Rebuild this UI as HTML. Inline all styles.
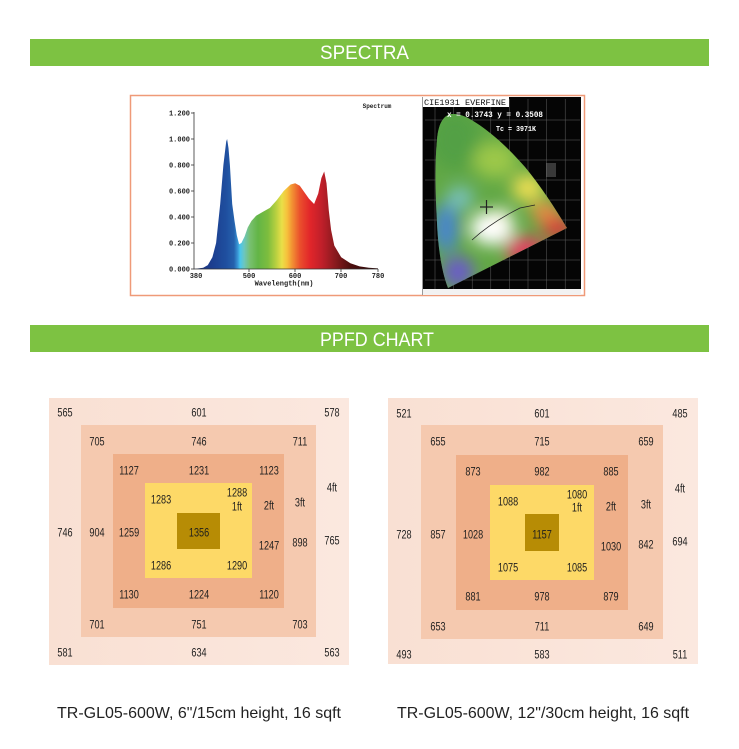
<!DOCTYPE html>
<html>
<head>
<meta charset="utf-8">
<style>
html,body{margin:0;padding:0;background:#fff;}
svg{display:block;}
.n{font-family:"Liberation Sans",sans-serif;font-size:12px;fill:#1e1e1e;text-anchor:middle;}
.ax{font-family:"Liberation Mono",monospace;font-size:7px;font-weight:bold;fill:#222;}
</style>
</head>
<body>
<svg width="739" height="749" viewBox="0 0 739 749" xmlns="http://www.w3.org/2000/svg">
<defs>
<linearGradient id="sp" gradientUnits="userSpaceOnUse" x1="194" y1="0" x2="378" y2="0">
<stop offset="0" stop-color="#1a2f7a"/>
<stop offset="0.103" stop-color="#1c3f90"/>
<stop offset="0.174" stop-color="#1f4f9f"/>
<stop offset="0.217" stop-color="#2561ad"/>
<stop offset="0.239" stop-color="#3a9ad8"/>
<stop offset="0.25" stop-color="#49c6ee"/>
<stop offset="0.272" stop-color="#6cc6c0"/>
<stop offset="0.304" stop-color="#78c070"/>
<stop offset="0.348" stop-color="#63b546"/>
<stop offset="0.402" stop-color="#7dbd3e"/>
<stop offset="0.446" stop-color="#b8d040"/>
<stop offset="0.478" stop-color="#eadf48"/>
<stop offset="0.505" stop-color="#f6c23c"/>
<stop offset="0.533" stop-color="#f29233"/>
<stop offset="0.576" stop-color="#ea4f2c"/>
<stop offset="0.63" stop-color="#e2262a"/>
<stop offset="0.696" stop-color="#bf1f2a"/>
<stop offset="0.766" stop-color="#8a1a1e"/>
<stop offset="0.848" stop-color="#4e0e0e"/>
<stop offset="1" stop-color="#2a0606"/>
</linearGradient>
<clipPath id="hs">
<path d="M448,288 L567,228 C555,208 540,185 525,167 C510,150 490,130 468,118 C460,114 452,113 448,115 C442,118 438,126 437,140 C435,160 435,190 437,223 C438,245 441,270 448,288 Z"/>
</clipPath>
<filter id="bl" x="-50%" y="-50%" width="200%" height="200%"><feGaussianBlur stdDeviation="8"/></filter>
<linearGradient id="ob" x1="0" y1="0" x2="1" y2="0">
<stop offset="0" stop-color="#f9e0d3"/><stop offset="1" stop-color="#fbe8df"/>
</linearGradient>
</defs>

<!-- green bars -->
<rect x="30" y="39" width="679" height="27" fill="#7dc242"/>
<text x="320" y="59" textLength="89" lengthAdjust="spacingAndGlyphs" font-family="Liberation Sans, sans-serif" font-size="19" fill="#fff">SPECTRA</text>
<rect x="30" y="325" width="679" height="27" fill="#7dc242"/>
<text x="320" y="346" textLength="114" lengthAdjust="spacingAndGlyphs" font-family="Liberation Sans, sans-serif" font-size="19" fill="#fff">PPFD CHART</text>

<!-- spectra box -->
<rect x="130.5" y="95.5" width="454" height="200" fill="#fff" stroke="#ef9a78" stroke-width="1.5"/>

<!-- spectrum chart -->
<path d="M194,269 L203.2,267.7 L207.8,265.1 L212.4,257.3 L216.1,243 L220.2,204 L223.4,165 L226.2,141.6 L227.1,139 L228.5,148.1 L229.9,165 L232.2,204 L234.5,220.9 L236.8,235.2 L239.1,244.3 L241.4,243 L244.6,236.5 L247.8,227.4 L251.5,220.9 L256.1,215.7 L263,211.8 L269.9,207.9 L276.8,200.1 L283.7,191 L290.6,184.5 L295.2,183.2 L299.8,185.8 L304.4,192.3 L309,198.8 L314.1,204 L318.2,193.6 L321.4,178 L324.2,171.5 L326.5,183.2 L328.8,210.5 L331.1,230 L334.3,245.6 L341.2,257.3 L350.4,263.2 L359.6,266.4 L368.8,267.7 L378,268.4 L378,269 Z" fill="url(#sp)"/>
<g stroke="#333" stroke-width="0.8" fill="none">
<line x1="194" y1="112" x2="194" y2="269.5"/>
<line x1="194" y1="269" x2="378" y2="269"/>
<line x1="191" y1="113" x2="194" y2="113"/>
<line x1="191" y1="139" x2="194" y2="139"/>
<line x1="191" y1="165" x2="194" y2="165"/>
<line x1="191" y1="191" x2="194" y2="191"/>
<line x1="191" y1="217" x2="194" y2="217"/>
<line x1="191" y1="243" x2="194" y2="243"/>
<line x1="191" y1="269" x2="194" y2="269"/>
<line x1="249" y1="269" x2="249" y2="272"/>
<line x1="295" y1="269" x2="295" y2="272"/>
<line x1="341" y1="269" x2="341" y2="272"/>
<line x1="378" y1="269" x2="378" y2="272"/>
</g>
<g class="ax" text-anchor="end">
<text x="190" y="115.5">1.200</text>
<text x="190" y="141.5">1.000</text>
<text x="190" y="167.5">0.800</text>
<text x="190" y="193.5">0.600</text>
<text x="190" y="219.5">0.400</text>
<text x="190" y="245.5">0.200</text>
<text x="190" y="271.5">0.000</text>
</g>
<g class="ax" text-anchor="middle">
<text x="196" y="278">380</text>
<text x="249" y="278">500</text>
<text x="295" y="278">600</text>
<text x="341" y="278">700</text>
<text x="378" y="278">780</text>
<text x="284" y="285.5">Wavelength(nm)</text>
<text x="377" y="108" font-size="6">Spectrum</text>
</g>
<line x1="422.5" y1="97" x2="422.5" y2="295" stroke="#999" stroke-width="1"/>

<!-- CIE image -->
<rect x="423" y="97" width="158" height="193" fill="#050505"/>
<rect x="423" y="289" width="158" height="6" fill="#f2f2f2"/>
<g stroke="#bbb" stroke-width="0.5" opacity="0.5">
<line x1="435" y1="99" x2="435" y2="289"/>
<line x1="453.6" y1="99" x2="453.6" y2="289"/>
<line x1="472.2" y1="99" x2="472.2" y2="289"/>
<line x1="490.8" y1="99" x2="490.8" y2="289"/>
<line x1="509.4" y1="99" x2="509.4" y2="289"/>
<line x1="528" y1="99" x2="528" y2="289"/>
<line x1="546.6" y1="99" x2="546.6" y2="289"/>
<line x1="565.2" y1="99" x2="565.2" y2="289"/>
<line x1="425" y1="280" x2="580" y2="280"/>
<line x1="425" y1="260" x2="580" y2="260"/>
<line x1="425" y1="240" x2="580" y2="240"/>
<line x1="425" y1="220" x2="580" y2="220"/>
<line x1="425" y1="200" x2="580" y2="200"/>
<line x1="425" y1="180" x2="580" y2="180"/>
<line x1="425" y1="160" x2="580" y2="160"/>
<line x1="425" y1="140" x2="580" y2="140"/>
<line x1="425" y1="120" x2="580" y2="120"/>
</g>
<g clip-path="url(#hs)">
<rect x="430" y="105" width="145" height="190" fill="#62a845"/>
<g filter="url(#bl)">
<ellipse cx="455" cy="140" rx="25" ry="30" fill="#52a044"/>
<ellipse cx="495" cy="160" rx="22" ry="18" fill="#9cc84a"/>
<ellipse cx="528" cy="188" rx="16" ry="14" fill="#ecde52"/>
<ellipse cx="545" cy="212" rx="14" ry="10" fill="#f08a44"/>
<ellipse cx="558" cy="228" rx="16" ry="10" fill="#e0303a"/>
<ellipse cx="525" cy="250" rx="20" ry="14" fill="#e04060"/>
<ellipse cx="446" cy="228" rx="13" ry="25" fill="#4a86cc"/>
<ellipse cx="458" cy="272" rx="16" ry="16" fill="#6a5cc8"/>
<ellipse cx="460" cy="198" rx="14" ry="12" fill="#78c0b8"/>
<ellipse cx="492" cy="228" rx="22" ry="17" fill="#ffffff"/>
<ellipse cx="500" cy="218" rx="12" ry="9" fill="#fffaf0"/>
</g>
</g>
<g stroke="#222" stroke-width="0.7" fill="none">
<path d="M472,240 C485,228 500,218 520,208 L535,205"/>
<line x1="480" y1="207" x2="493" y2="207" stroke-width="1.2"/>
<line x1="486.5" y1="200" x2="486.5" y2="214" stroke-width="1.2"/>
</g>
<rect x="423" y="97" width="86" height="10" fill="#fff"/>
<text x="424" y="105" font-family="Liberation Mono, monospace" font-size="8" fill="#111" textLength="82" lengthAdjust="spacingAndGlyphs">CIE1931 EVERFINE</text>
<text x="447" y="117" font-family="Liberation Mono, monospace" font-size="8" font-weight="bold" fill="#fff" textLength="96" lengthAdjust="spacingAndGlyphs">x = 0.3743 y = 0.3508</text>
<text x="496" y="131" font-family="Liberation Mono, monospace" font-size="7" font-weight="bold" fill="#fff" textLength="40" lengthAdjust="spacingAndGlyphs">Tc = 3971K</text>
<rect x="546" y="163" width="10" height="14" fill="#888" opacity="0.4"/>

<!-- PPFD left -->
<rect x="49" y="398" width="300" height="267" fill="url(#ob)"/>
<rect x="81" y="425" width="235" height="212" fill="#f5c9af"/>
<rect x="113" y="454" width="171" height="154" fill="#efaf89"/>
<rect x="145" y="483" width="107" height="95" fill="#fdd967"/>
<rect x="177" y="513" width="43" height="36" fill="#b78c05"/>

<!-- PPFD right -->
<rect x="388" y="398" width="310" height="266" fill="url(#ob)"/>
<rect x="421" y="425" width="242" height="214" fill="#f5c9af"/>
<rect x="456" y="455" width="172" height="155" fill="#efaf89"/>
<rect x="490" y="485" width="104" height="95" fill="#fdd967"/>
<rect x="525" y="514" width="34" height="37" fill="#b78c05"/>

<g class="n">
<text transform="translate(65 416.5) scale(.76 1)">565</text>
<text transform="translate(199 416.5) scale(.76 1)">601</text>
<text transform="translate(332 416.5) scale(.76 1)">578</text>
<text transform="translate(97 445.5) scale(.76 1)">705</text>
<text transform="translate(199 445.5) scale(.76 1)">746</text>
<text transform="translate(300 445.5) scale(.76 1)">711</text>
<text transform="translate(129 474.5) scale(.76 1)">1127</text>
<text transform="translate(199 474.5) scale(.76 1)">1231</text>
<text transform="translate(269 474.5) scale(.76 1)">1123</text>
<text transform="translate(161 503.5) scale(.76 1)">1283</text>
<text transform="translate(237 496.5) scale(.76 1)">1288</text>
<text transform="translate(237 510.5) scale(.76 1)">1ft</text>
<text transform="translate(269 509.5) scale(.76 1)">2ft</text>
<text transform="translate(300 506.5) scale(.76 1)">3ft</text>
<text transform="translate(332 491.5) scale(.76 1)">4ft</text>
<text transform="translate(65 536.5) scale(.76 1)">746</text>
<text transform="translate(97 536.5) scale(.76 1)">904</text>
<text transform="translate(129 536.5) scale(.76 1)">1259</text>
<text transform="translate(199 536.5) scale(.76 1)">1356</text>
<text transform="translate(269 549.5) scale(.76 1)">1247</text>
<text transform="translate(300 546.5) scale(.76 1)">898</text>
<text transform="translate(332 544.5) scale(.76 1)">765</text>
<text transform="translate(161 569.5) scale(.76 1)">1286</text>
<text transform="translate(237 569.5) scale(.76 1)">1290</text>
<text transform="translate(129 598.5) scale(.76 1)">1130</text>
<text transform="translate(199 598.5) scale(.76 1)">1224</text>
<text transform="translate(269 598.5) scale(.76 1)">1120</text>
<text transform="translate(97 628.5) scale(.76 1)">701</text>
<text transform="translate(199 628.5) scale(.76 1)">751</text>
<text transform="translate(300 628.5) scale(.76 1)">703</text>
<text transform="translate(65 656.5) scale(.76 1)">581</text>
<text transform="translate(199 656.5) scale(.76 1)">634</text>
<text transform="translate(332 656.5) scale(.76 1)">563</text>

<text transform="translate(404 417.5) scale(.76 1)">521</text>
<text transform="translate(542 417.5) scale(.76 1)">601</text>
<text transform="translate(680 417.5) scale(.76 1)">485</text>
<text transform="translate(438 445.5) scale(.76 1)">655</text>
<text transform="translate(542 445.5) scale(.76 1)">715</text>
<text transform="translate(646 445.5) scale(.76 1)">659</text>
<text transform="translate(473 475.5) scale(.76 1)">873</text>
<text transform="translate(542 475.5) scale(.76 1)">982</text>
<text transform="translate(611 475.5) scale(.76 1)">885</text>
<text transform="translate(508 505.5) scale(.76 1)">1088</text>
<text transform="translate(577 498.5) scale(.76 1)">1080</text>
<text transform="translate(577 511.5) scale(.76 1)">1ft</text>
<text transform="translate(611 510.5) scale(.76 1)">2ft</text>
<text transform="translate(646 508.5) scale(.76 1)">3ft</text>
<text transform="translate(680 492.5) scale(.76 1)">4ft</text>
<text transform="translate(404 538.5) scale(.76 1)">728</text>
<text transform="translate(438 538.5) scale(.76 1)">857</text>
<text transform="translate(473 538.5) scale(.76 1)">1028</text>
<text transform="translate(542 538.5) scale(.76 1)">1157</text>
<text transform="translate(611 550.5) scale(.76 1)">1030</text>
<text transform="translate(646 548.5) scale(.76 1)">842</text>
<text transform="translate(680 545.5) scale(.76 1)">694</text>
<text transform="translate(508 571.5) scale(.76 1)">1075</text>
<text transform="translate(577 571.5) scale(.76 1)">1085</text>
<text transform="translate(473 600.5) scale(.76 1)">881</text>
<text transform="translate(542 600.5) scale(.76 1)">978</text>
<text transform="translate(611 600.5) scale(.76 1)">879</text>
<text transform="translate(438 630.5) scale(.76 1)">653</text>
<text transform="translate(542 630.5) scale(.76 1)">711</text>
<text transform="translate(646 630.5) scale(.76 1)">649</text>
<text transform="translate(404 658.5) scale(.76 1)">493</text>
<text transform="translate(542 658.5) scale(.76 1)">583</text>
<text transform="translate(680 658.5) scale(.76 1)">511</text>
</g>

<!-- captions -->
<text x="57" y="718" font-family="Liberation Sans, sans-serif" font-size="16" fill="#222" textLength="284" lengthAdjust="spacingAndGlyphs">TR-GL05-600W, 6"/15cm height, 16 sqft</text>
<text x="397" y="718" font-family="Liberation Sans, sans-serif" font-size="16" fill="#222" textLength="292" lengthAdjust="spacingAndGlyphs">TR-GL05-600W, 12"/30cm height, 16 sqft</text>
</svg>
</body>
</html>
